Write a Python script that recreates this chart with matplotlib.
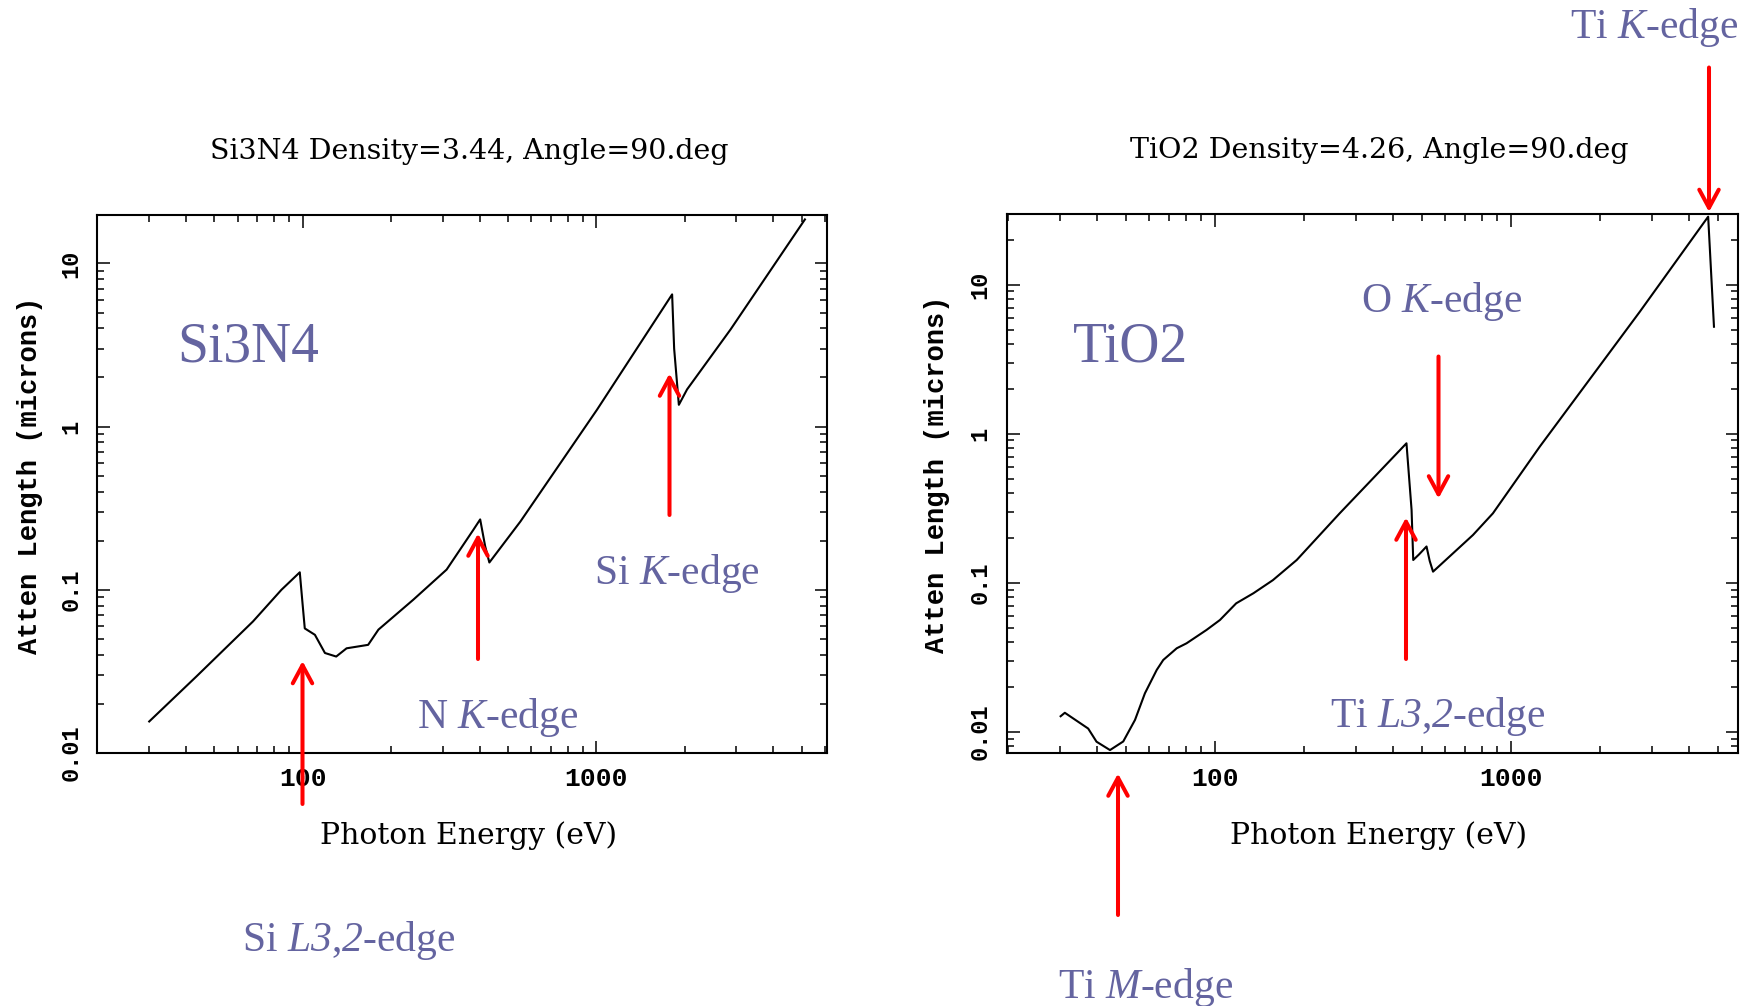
import matplotlib
matplotlib.use("Agg")
import matplotlib.pyplot as plt
from matplotlib.patches import FancyArrowPatch
from matplotlib.ticker import FixedLocator, LogLocator, NullFormatter, FixedFormatter

# ---------------- data ----------------
si3n4_energy = [30, 43.4, 67.7, 84.6, 97.7, 99.8, 101.6, 110, 119, 130, 141, 167, 181,
                238, 309, 381, 402, 418, 432, 551, 1005, 1811, 1840, 1909, 2036, 2864, 5130]
si3n4_atten = [0.0156, 0.0294, 0.064, 0.100, 0.128, 0.083, 0.058, 0.053, 0.041, 0.039, 0.0438,
               0.046, 0.057, 0.087, 0.133, 0.233, 0.27, 0.185, 0.147, 0.262, 1.27, 6.46, 3.0,
               1.36, 1.69, 3.94, 18.6]

tio2_energy = [30.1, 31.1, 37.3, 39.8, 44.2, 49, 53.7, 58, 63.6, 66.9, 74.3, 80.2, 93.7, 104,
               118, 135, 157, 189, 264, 444, 462, 468, 490, 519, 532, 546, 745, 870, 1253,
               2730, 4645, 4860]
tio2_atten = [0.0127, 0.0134, 0.0105, 0.00857, 0.00753, 0.0086, 0.012, 0.0181, 0.026, 0.0303,
              0.0363, 0.0392, 0.0482, 0.0562, 0.0727, 0.085, 0.104, 0.142, 0.292, 0.862, 0.308,
              0.142, 0.155, 0.175, 0.14, 0.1186, 0.209, 0.292, 0.819, 6.59, 28.6, 5.22]

titles = ["Si3N4 Density=3.44, Angle=90.deg", "TiO2 Density=4.26, Angle=90.deg"]
x_ticks = [100, 1000]
x_ticklabels = ["100", "1000"]
y_ticks = [0.01, 0.1, 1, 10]
y_ticklabels = ["0.01", "0.1", "1", "10"]
xlims = [(20, 6100), (19.8, 5850)]
ylims = [(0.01, 19.8), (0.00723, 29.8)]

W, H = 1758, 1006
plt.rcParams['mathtext.fontset'] = 'custom'
plt.rcParams['mathtext.rm'] = 'Liberation Serif:italic'
plt.rcParams['mathtext.it'] = 'Liberation Serif:italic'

fig = plt.figure(figsize=(W / 100, H / 100), dpi=100)


def fx(px):
    return px / W


def fy(py):
    return 1 - py / H


def axes_rect(l, r, t, b):
    return [fx(l), fy(b), (r - l) / W, (b - t) / H]


ax1 = fig.add_axes(axes_rect(97.5, 827, 215, 753))
ax2 = fig.add_axes(axes_rect(1006.8, 1737.8, 214, 752.7))

series = [(si3n4_energy, si3n4_atten), (tio2_energy, tio2_atten)]
for i, ax in enumerate([ax1, ax2]):
    e, a = series[i]
    ax.plot(e, a, color='black', lw=1.5)
    ax.set_xscale('log')
    ax.set_yscale('log')
    ax.set_xlim(*xlims[i])
    ax.set_ylim(*ylims[i])
    ax.xaxis.set_major_locator(FixedLocator(x_ticks))
    ax.xaxis.set_major_formatter(FixedFormatter(x_ticklabels))
    ax.yaxis.set_major_locator(FixedLocator(y_ticks))
    ax.yaxis.set_major_formatter(FixedFormatter(y_ticklabels))
    ax.xaxis.set_minor_locator(LogLocator(base=10, subs=range(2, 10)))
    ax.yaxis.set_minor_locator(LogLocator(base=10, subs=range(2, 10)))
    ax.xaxis.set_minor_formatter(NullFormatter())
    ax.yaxis.set_minor_formatter(NullFormatter())
    ax.tick_params(which='both', direction='in', top=True, right=True, width=1.1)
    ax.tick_params(which='major', length=9)
    ax.tick_params(which='minor', length=5)
    ax.tick_params(axis='x', which='major', pad=10, labelsize=19)
    ax.tick_params(axis='y', which='major', pad=11, labelsize=17, labelrotation=90)
    for lab in ax.get_xticklabels() + ax.get_yticklabels():
        lab.set_family('Liberation Mono')
        lab.set_fontweight('bold')
    for lab in ax.get_yticklabels():
        lab.set_verticalalignment('center')
        lab.set_horizontalalignment('right')
    for sp in ax.spines.values():
        sp.set_linewidth(1.5)
    ax.set_title(titles[i], fontsize=20.5, family='DejaVu Serif', pad=40, x=0.509)
    ax.set_xlabel("Photon Energy (eV)", fontsize=21.5, family='DejaVu Serif', labelpad=22)
    ax.xaxis.label.set_x(0.508)
    ax.set_ylabel("Atten Length (microns)", fontsize=19.5, family='Liberation Mono',
                  fontweight='bold', labelpad=8 + (4 if i == 0 else 5.5))
    ax.yaxis.label.set_y(0.517)

# ---------------- annotations ----------------
txt_color = '#6464a0'
labels = [
    ("Si3N4", 177, 362, 40),
    ("TiO2", 1073, 362, 40),
    (r"Si $K$-edge", 594, 584, 30),
    (r"N $K$-edge", 417, 728, 30),
    (r"Si $L3$,$2$-edge", 242, 951, 30),
    (r"O $K$-edge", 1361, 312, 30),
    (r"Ti $L3$,$2$-edge", 1330, 727, 30),
    (r"Ti $M$-edge", 1058, 998, 30),
    (r"Ti $K$-edge", 1570, 38, 30),
]
for s, x, y, size in labels:
    fig.text(fx(x), fy(y), s, ha='left', va='baseline', fontsize=size,
             family='Liberation Serif', color=txt_color)

# arrows: (x, tail_y, tip_y) in pixels
arrows = [
    (302.5, 804, 661),
    (478, 659, 533.5),
    (669.5, 515, 373.5),
    (1118, 915, 773.5),
    (1406, 659, 517.5),
    (1438.5, 356.5, 498.5),
    (1709, 67.5, 212),
]
for x, y0, y1 in arrows:
    fig.add_artist(FancyArrowPatch((fx(x), fy(y0)), (fx(x), fy(y1)),
                                   transform=fig.transFigure,
                                   arrowstyle='->,head_length=13,head_width=7',
                                   lw=2.9, color='#ff0000', shrinkA=0, shrinkB=0))

fig.savefig("out.png", dpi=100)
